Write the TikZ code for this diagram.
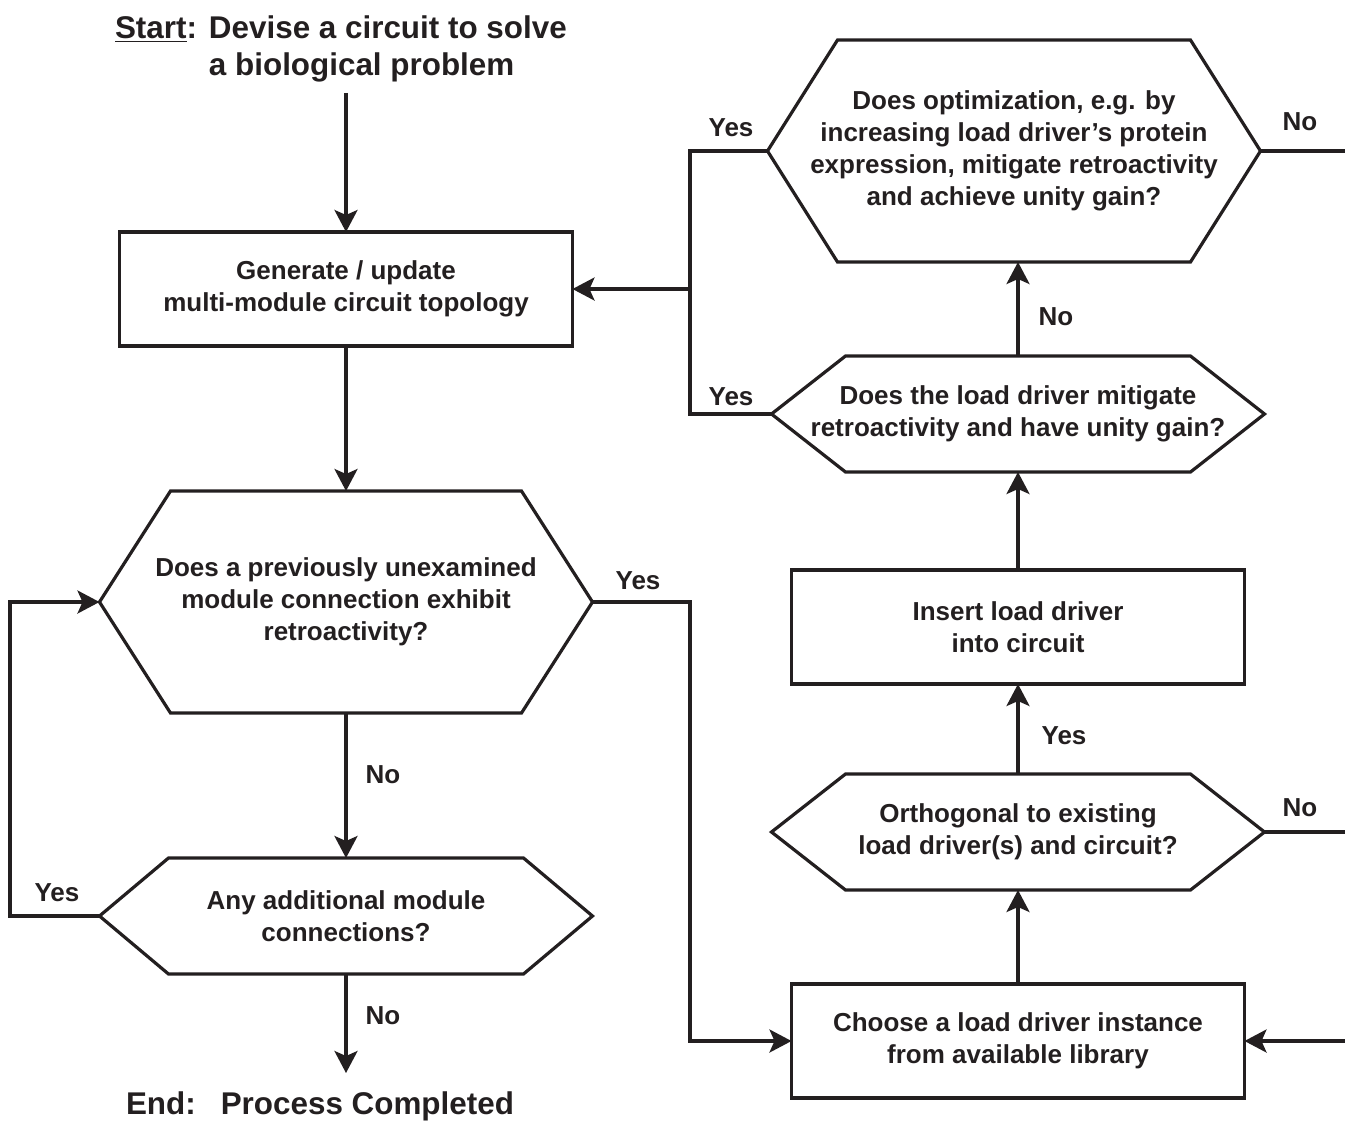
\documentclass[tikz,border=0pt]{standalone}
\usepackage{fontspec}
\setmainfont{Liberation Sans}
\usetikzlibrary{positioning,calc,arrows.meta}
\definecolor{ink}{HTML}{231F20}
\newcommand\hexoutline[2]{\draw (#1.west) -- ([xshift=#2]#1.north west) -- ([xshift=-#2]#1.north east)
	-- (#1.east) -- ([xshift=-#2]#1.south east) -- ([xshift=#2]#1.south west) -- cycle;}

\begin{document}
\begin{tikzpicture}[x=0.5pt,y=-0.5pt,line width=1.6pt,color=ink,
				every node/.style={font=\fontsize{13}{16}\selectfont\bfseries,outer sep=0pt},
				big/.style={font=\fontsize{15.7}{18.5}\selectfont\bfseries},
				block/.style={draw,rectangle,align=center,minimum width=226.5pt,minimum height=57pt},
				hex/.style={align=center,minimum width=246.5pt},
				flat/.style={hex,minimum height=58pt},
				tall/.style={hex,minimum height=111pt},
				flow/.style={-{Stealth[length=11pt,width=11.5pt,inset=2.5pt]}},
				node distance=0pt]
				\useasboundingbox (0,0) rectangle (1345,1121);

				\node (START) [big,anchor=base west,inner xsep=0pt] at (115,38)
					{\underline{Start}:\hspace{6pt}\begin{tabular}[t]{@{}l@{}}Devise a circuit to solve\\a biological problem\end{tabular}};
				\node (GEN)    [block] at (346,289)          {Generate / update\\multi-module circuit topology};
				\node (PREV)   [tall,below=72.5pt of GEN]    {Does a previously unexamined\\module connection exhibit\\retroactivity?};
				\node (ANY)    [flat,below=72.5pt of PREV]   {Any additional module\\connections?};
				\node (END)    [big,anchor=north,inner ysep=9.5pt] at (320,1073) {End:\hspace{12.5pt}Process Completed};

				\node (CHOOSE) [block] at (1018,1041)        {Choose a load driver instance\\from available library};
				\node (ORTHO)  [flat,above=47pt of CHOOSE]   {Orthogonal to existing\\load driver(s) and circuit?};
				\node (INSERT) [block,above=45pt of ORTHO]   {Insert load driver\\into circuit};
				\node (MITIG)  [flat,above=49pt of INSERT]   {Does the load driver mitigate\\retroactivity and have unity gain?};
				\node (OPT)    [tall,above=47pt of MITIG,xshift=-2pt]
					{Does optimization, e.g. by\\increasing load driver's protein\\expression, mitigate retroactivity\\and achieve unity gain?};

				\hexoutline{PREV}{35.5pt}
				\hexoutline{ANY}{34.5pt}
				\hexoutline{ORTHO}{37pt}
				\hexoutline{MITIG}{37pt}
				\hexoutline{OPT}{35pt}

				\node (OPTyes)   at (731,128)  {Yes};
				\node (OPTno)    at (1300,122) {No};
				\node (MITIGyes) at (731,397)  {Yes};
				\node (MITIGno)  at (1056,317) {No};
				\node (ORTHOyes) at (1064,736) {Yes};
				\node (ORTHOno)  at (1300,808) {No};
				\node (PREVyes)  at (638,581)  {Yes};
				\node (PREVno)   at (383,775)  {No};
				\node (ANYyes)   at (57,893)   {Yes};
				\node (ANYno)    at (383,1016) {No};

				\coordinate (BUS)  at (690,0);
				\coordinate (LOOP) at (10,0);
				\coordinate (RIM)  at (1345,0);

				\draw[flow] (GEN.north |- START.south) -- (GEN.north);
				\draw[flow] (GEN.south) -- (PREV.north);
				\draw[flow] (PREV.south) -- (ANY.north);
				\draw[flow] (ANY.south) -- (ANY.south |- END.north);
				\draw[flow] (ANY.west) -- (ANY.west -| LOOP) |- (PREV.west);
				\draw[flow] (PREV.east) -- (PREV.east -| BUS) |- (CHOOSE.west);
				\draw[flow] (CHOOSE.north) -- (ORTHO.south);
				\draw[flow] (ORTHO.north) -- (INSERT.south);
				\draw[flow] (INSERT.north) -- (MITIG.south);
				\draw[flow] (MITIG.north) -- (MITIG.north |- OPT.south);
				\draw (OPT.west) -- (OPT.west -| BUS) -- (MITIG.west -| BUS) -- (MITIG.west);
				\draw[flow] (GEN.east -| BUS) -- (GEN.east);
				\draw (OPT.east) -- (OPT.east -| RIM);
				\draw (ORTHO.east) -- (ORTHO.east -| RIM);
				\draw[flow] (CHOOSE.east -| RIM) -- (CHOOSE.east);
			\end{tikzpicture}
\end{document}
